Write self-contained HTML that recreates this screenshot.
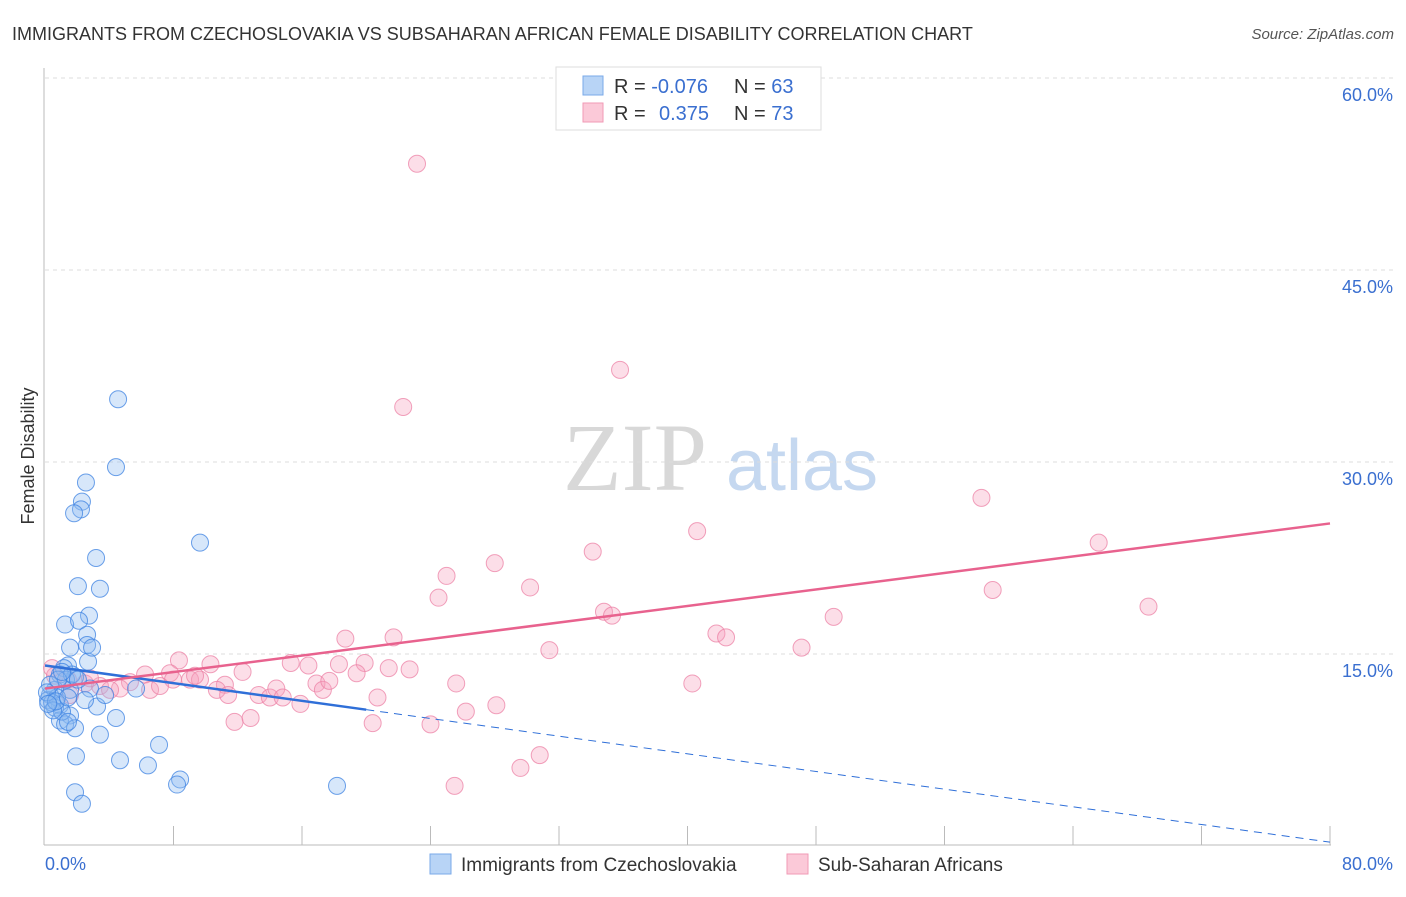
<!DOCTYPE html>
<html><head><meta charset="utf-8"><style>
body{margin:0;background:#fff;font-family:"Liberation Sans",sans-serif}
svg text{font-family:"Liberation Sans",sans-serif}
</style></head><body>
<svg id="chart" width="1406" height="892">
<text x="12" y="40" font-size="18" fill="#333">IMMIGRANTS FROM CZECHOSLOVAKIA VS SUBSAHARAN AFRICAN FEMALE DISABILITY CORRELATION CHART</text>
<text x="1394" y="39" font-size="15" fill="#555" font-style="italic" text-anchor="end">Source: ZipAtlas.com</text>
<text x="34" y="456" font-size="18" fill="#333" text-anchor="middle" transform="rotate(-90 34 456)">Female Disability</text>
<g>
<text x="635" y="490" font-size="96" fill="#d8d8d8" text-anchor="middle" font-family="Liberation Serif" style="font-family:'Liberation Serif',serif">ZIP</text>
<text x="802" y="490" font-size="72" fill="#c5d8f0" text-anchor="middle">atlas</text>
</g>
<g id="grid"></g><g id="axes"></g><g id="pts"></g><g id="lines"></g>
<g>
<rect x="556" y="67" width="265" height="63" fill="#fff" stroke="#ddd"/>
<rect x="583" y="76" width="20" height="19" fill="#b8d4f6" stroke="#7aaae8"/>
<rect x="583" y="103" width="20" height="19" fill="#fbc9d8" stroke="#f09ab6"/>
<text x="614" y="93" font-size="20" fill="#333">R = <tspan fill="#3a6fd0">-0.076</tspan></text>
<text x="734" y="93" font-size="20" fill="#333">N = <tspan fill="#3a6fd0">63</tspan></text>
<text x="614" y="120" font-size="20" fill="#333">R = <tspan fill="#3a6fd0" x="659">0.375</tspan></text>
<text x="734" y="120" font-size="20" fill="#333">N = <tspan fill="#3a6fd0">73</tspan></text>
</g>
<g>
<rect x="430" y="854" width="21" height="20" fill="#b8d4f6" stroke="#7aaae8"/>
<text x="461" y="871" font-size="19" fill="#333">Immigrants from Czechoslovakia</text>
<rect x="787" y="854" width="21" height="20" fill="#fbc9d8" stroke="#f09ab6"/>
<text x="818" y="871" font-size="19" fill="#333">Sub-Saharan Africans</text>
</g>
</svg>
<script>
const yTicks=[15,30,45,60];
const yTickLabels=["15.0%","30.0%","45.0%","60.0%"];
const xTickCount=10;
const blueX=[4.55,4.42,2.55,2.30,2.24,1.81,9.65,3.18,2.05,3.42,2.74,1.25,2.12,2.62,2.62,1.56,2.68,1.43,1.18,0.93,1.87,2.80,1.56,0.62,0.31,0.19,0.93,3.24,2.49,0.62,1.56,4.42,0.93,1.25,1.87,3.42,1.93,4.67,7.10,6.41,8.41,8.22,18.18,1.87,2.30,5.67,0.75,0.44,1.06,1.43,1.31,1.68,0.31,0.81,2.93,1.06,2.05,0.50,0.12,0.68,1.43,3.74,0.2];
const blueY=[34.9,29.6,28.4,26.9,26.3,26.0,23.7,22.5,20.3,20.1,18.0,17.3,17.6,16.5,15.7,15.5,14.4,14.1,13.9,13.4,13.2,12.3,12.2,12.2,11.8,11.4,11.0,10.9,11.4,10.8,10.2,10.0,9.8,9.5,9.2,8.7,7.0,6.7,7.9,6.3,5.2,4.8,4.7,4.2,3.3,12.3,11.6,11.2,10.5,9.7,13.0,13.4,12.6,13.0,15.5,13.6,13.0,10.6,12.0,11.3,11.6,11.8,11.1];
const pinkX=[23.16,35.8,22.3,58.3,40.6,65.6,34.1,28.0,25.0,30.2,24.5,59.0,68.7,34.8,35.3,49.1,41.8,42.4,18.7,21.7,31.4,47.1,8.34,10.3,12.3,15.3,16.4,18.3,19.9,21.4,22.7,19.4,7.78,6.23,5.29,6.54,7.97,9.03,9.65,11.2,10.7,11.4,13.3,14.0,14.4,14.8,15.9,16.9,17.3,17.7,25.6,20.7,40.3,28.1,26.2,11.8,12.8,20.4,24.0,29.6,30.8,25.5,4.67,3.42,2.49,1.43,0.62,0.44,1.56,4.05,2.80,7.16,9.34];
const pinkY=[53.3,37.2,34.3,27.2,24.6,23.7,23.0,22.1,21.1,20.2,19.4,20.0,18.7,18.3,18.0,17.9,16.6,16.3,16.2,16.3,15.3,15.5,14.5,14.2,13.6,14.3,14.1,14.2,14.3,13.9,13.8,13.5,13.5,13.4,12.8,12.2,13.0,13.0,13.0,12.6,12.2,11.8,11.8,11.6,12.3,11.6,11.1,12.7,12.2,12.9,12.7,11.6,12.7,11.0,10.5,9.7,10.0,9.6,9.5,6.1,7.1,4.7,12.3,12.5,12.7,13.0,13.3,13.9,11.8,12.2,13.1,12.5,13.3];
const blueTrend=[14.1,0.3];   // y at x=0 and x=80
const blueSolidEnd=20;
const pinkTrend=[12.3,25.2];

const NS="http://www.w3.org/2000/svg";
const X=v=>45+v/80*1285, Y=v=>846-v/15*192;
function mk(tag,attrs,parent){const e=document.createElementNS(NS,tag);for(const k in attrs)e.setAttribute(k,attrs[k]);document.getElementById(parent).appendChild(e);return e;}
yTicks.forEach((t,i)=>{
  const g=mk('line',{x1:45,x2:1393,y1:Y(t),y2:Y(t),stroke:'#ddd','stroke-dasharray':'4,4'},'grid');
  
  
  const l=mk('text',{x:1393,y:Y(t)+23,'font-size':18,fill:'#3a6fd0','text-anchor':'end'},'grid');
  l.textContent=yTickLabels[i];
  
  
});
const ax=mk('line',{x1:44,x2:44,y1:68,y2:845,stroke:'#bbb'},'axes');


const bx=mk('line',{x1:44,x2:1331,y1:845,y2:845,stroke:'#bbb'},'axes');


for(let i=1;i<=xTickCount;i++){
  const t=mk('line',{x1:X(i*8),x2:X(i*8),y1:826,y2:845,stroke:'#bbb'},'axes');
  
  
}
const xl0=mk('text',{x:45,y:870,'font-size':18,fill:'#3a6fd0'},'axes');xl0.textContent='0.0%';


const xl1=mk('text',{x:1393,y:870,'font-size':18,fill:'#3a6fd0','text-anchor':'end'},'axes');xl1.textContent='80.0%';


pinkX.forEach((v,i)=>{
  const c=mk('circle',{cx:X(v),cy:Y(pinkY[i]),r:8.5,fill:'rgba(246,160,190,0.35)',stroke:'rgba(236,130,165,0.75)','stroke-width':1},'pts');
  
  
});
blueX.forEach((v,i)=>{
  const c=mk('circle',{cx:X(v),cy:Y(blueY[i]),r:8.5,fill:'rgba(140,185,240,0.35)',stroke:'rgba(60,130,225,0.75)','stroke-width':1},'pts');
  
  
});
const bAt=x=>blueTrend[0]+(blueTrend[1]-blueTrend[0])*x/80;
const b1=mk('line',{x1:X(0),y1:Y(bAt(0)),x2:X(blueSolidEnd),y2:Y(bAt(blueSolidEnd)),stroke:'#2f6fd8','stroke-width':2.5},'lines');


const b2=mk('line',{x1:X(blueSolidEnd),y1:Y(bAt(blueSolidEnd)),x2:X(80),y2:Y(bAt(80)),stroke:'#2f6fd8','stroke-width':1,'stroke-dasharray':'8,6'},'lines');


const p1=mk('line',{x1:X(0),y1:Y(pinkTrend[0]),x2:X(80),y2:Y(pinkTrend[1]),stroke:'#e8628e','stroke-width':2.5},'lines');


</script>
</body></html>
